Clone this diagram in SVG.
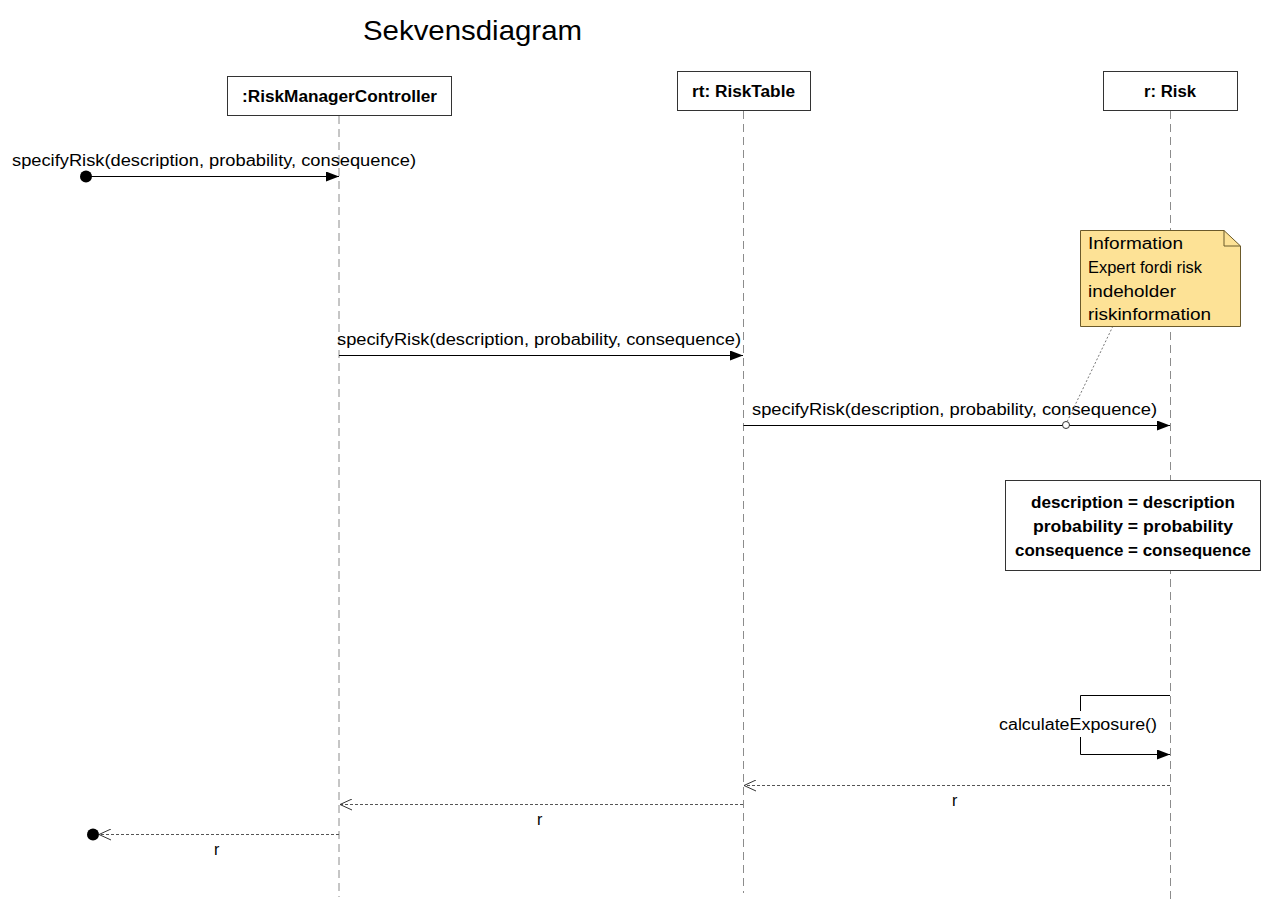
<svg xmlns="http://www.w3.org/2000/svg" width="1262" height="901" viewBox="0 0 1262 901">
<style>
text{font-family:"Liberation Sans","DejaVu Sans",sans-serif;fill:#000}
.lbl{font-size:16px}
.b{font-size:16px;font-weight:bold}
.life{stroke:#8c8c8c;stroke-width:1;stroke-dasharray:8,5;fill:none}
.msg{stroke:#000;stroke-width:1;fill:none}
.ret{stroke:#555;stroke-width:1;stroke-dasharray:3,2;fill:none}
.box{fill:#fff;stroke:#333;stroke-width:1}
</style>
<defs>
<marker id="fa" markerWidth="14" markerHeight="10" refX="13" refY="5" orient="auto" markerUnits="userSpaceOnUse">
<path d="M0,0 L13,5 L0,10 Z" fill="#000"/>
</marker>
<marker id="oa" markerWidth="14" markerHeight="12" refX="13" refY="6" orient="auto" markerUnits="userSpaceOnUse">
<path d="M1,0.5 L13,6 L1,11.5" fill="none" stroke="#333" stroke-width="1"/>
</marker>
</defs>
<rect width="1262" height="901" fill="#fff"/>
<text x="363" y="40" style="font-size:28px" textLength="219" lengthAdjust="spacingAndGlyphs">Sekvensdiagram</text>

<g id="lifelines">
<line class="life" x1="339" y1="116" x2="339" y2="897"/>
<line class="life" x1="743.5" y1="111" x2="743.5" y2="893"/>
<line class="life" x1="1170.5" y1="111" x2="1170.5" y2="900"/>
</g>

<g id="controller">
<rect class="box" x="227.5" y="76.5" width="224" height="39"/>
<text class="b" x="242" y="102" textLength="195" lengthAdjust="spacingAndGlyphs">:RiskManagerController</text>
</g>
<g id="risktable">
<rect class="box" x="677.5" y="71.5" width="133" height="39"/>
<text class="b" x="692" y="97" textLength="103" lengthAdjust="spacingAndGlyphs">rt: RiskTable</text>
</g>
<g id="risk">
<rect class="box" x="1103.5" y="71.5" width="134" height="39"/>
<text class="b" x="1144" y="97" textLength="52" lengthAdjust="spacingAndGlyphs">r: Risk</text>
</g>

<g id="connectors">
<line class="msg" x1="86" y1="176.5" x2="339" y2="176.5" marker-end="url(#fa)"/>
<circle cx="86" cy="176.5" r="6" fill="#000"/>
<line class="msg" x1="339" y1="355.5" x2="743" y2="355.5" marker-end="url(#fa)"/>
<line class="msg" x1="743.5" y1="425.5" x2="1170" y2="425.5" marker-end="url(#fa)"/>
<path class="msg" d="M1170,695.5 H1080.5 V754.5 H1170" stroke="#555" marker-end="url(#fa)"/>
<line class="ret" x1="1170" y1="785.5" x2="744" y2="785.5" marker-end="url(#oa)"/>
<line class="ret" x1="743" y1="804.5" x2="340" y2="804.5" marker-end="url(#oa)"/>
<line class="ret" x1="339" y1="834.5" x2="99" y2="834.5" stroke-dasharray="5,3" marker-end="url(#oa)"/>
<circle cx="93" cy="834.5" r="6" fill="#000"/>
</g>

<g id="labels">
<text class="lbl" x="12" y="166" textLength="404" lengthAdjust="spacingAndGlyphs">specifyRisk(description, probability, consequence)</text>
<text class="lbl" x="337" y="345" textLength="404" lengthAdjust="spacingAndGlyphs">specifyRisk(description, probability, consequence)</text>
<text class="lbl" x="752" y="415" textLength="405" lengthAdjust="spacingAndGlyphs">specifyRisk(description, probability, consequence)</text>
<rect x="997" y="711" width="162" height="26" fill="#fff"/>
<text class="lbl" x="999" y="730" textLength="158" lengthAdjust="spacingAndGlyphs">calculateExposure()</text>
<text class="lbl" x="952" y="806">r</text>
<text class="lbl" x="537" y="825">r</text>
<text class="lbl" x="214" y="855">r</text>
</g>

<g id="note">
<line x1="1113" y1="326" x2="1066" y2="424" stroke="#777" stroke-width="1" stroke-dasharray="2,2"/>
<circle cx="1066" cy="425" r="3.5" fill="#fff" stroke="#333" stroke-width="1"/>
<path d="M1080.5,230.5 H1224 L1240.5,246 V326.5 H1080.5 Z" fill="#fde296" stroke="#6b5a2a" stroke-width="1"/>
<path d="M1224,230.5 V246 H1240.5" fill="none" stroke="#6b5a2a" stroke-width="1"/>
<text class="lbl" x="1088" y="249" textLength="95" lengthAdjust="spacingAndGlyphs">Information</text>
<text class="lbl" x="1088" y="273" textLength="114" lengthAdjust="spacingAndGlyphs">Expert fordi risk</text>
<text class="lbl" x="1088" y="297" textLength="88" lengthAdjust="spacingAndGlyphs">indeholder</text>
<text class="lbl" x="1088" y="320" textLength="123" lengthAdjust="spacingAndGlyphs">riskinformation</text>
</g>

<g id="assignment">
<rect class="box" x="1005.5" y="480.5" width="255" height="90"/>
<text class="b" x="1031" y="508" textLength="204" lengthAdjust="spacingAndGlyphs">description = description</text>
<text class="b" x="1033" y="532" textLength="200" lengthAdjust="spacingAndGlyphs">probability = probability</text>
<text class="b" x="1015" y="556" textLength="236" lengthAdjust="spacingAndGlyphs">consequence = consequence</text>
</g>
</svg>
